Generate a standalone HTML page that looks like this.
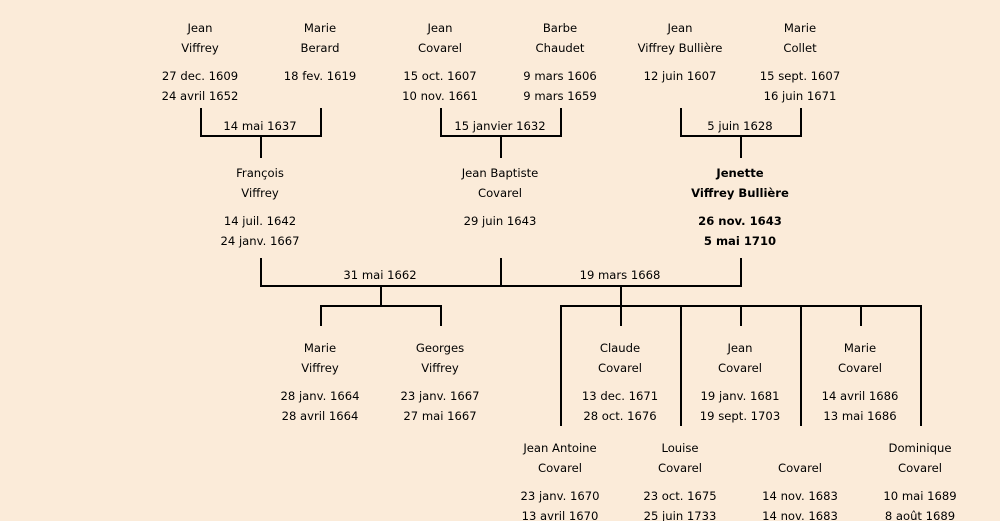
<!DOCTYPE html>
<html><head><meta charset="utf-8"><style>
html,body{margin:0;padding:0;background:#fbebd9;}
svg{display:block;}
text{font-family:"DejaVu Sans",sans-serif;font-size:11.6px;fill:#000;text-anchor:middle;}
.b{font-weight:bold;}
line{stroke:#000;stroke-width:2;}
</style></head><body>
<svg width="1000" height="521" viewBox="0 0 1000 521">
<rect width="1000" height="521" fill="#fbebd9"/>
<text x="200" y="32">Jean</text><text x="200" y="52">Viffrey</text><text x="200" y="80">27 dec. 1609</text><text x="200" y="100">24 avril 1652</text>
<text x="320" y="32">Marie</text><text x="320" y="52">Berard</text><text x="320" y="80">18 fev. 1619</text>
<text x="440" y="32">Jean</text><text x="440" y="52">Covarel</text><text x="440" y="80">15 oct. 1607</text><text x="440" y="100">10 nov. 1661</text>
<text x="560" y="32">Barbe</text><text x="560" y="52">Chaudet</text><text x="560" y="80">9 mars 1606</text><text x="560" y="100">9 mars 1659</text>
<text x="680" y="32">Jean</text><text x="680" y="52">Viffrey Bullière</text><text x="680" y="80">12 juin 1607</text>
<text x="800" y="32">Marie</text><text x="800" y="52">Collet</text><text x="800" y="80">15 sept. 1607</text><text x="800" y="100">16 juin 1671</text>
<line x1="201" y1="108" x2="201" y2="137"/><line x1="321" y1="108" x2="321" y2="137"/><line x1="200" y1="136" x2="322" y2="136"/><line x1="261" y1="136" x2="261" y2="158"/>
<text x="260" y="130">14 mai 1637</text>
<line x1="441" y1="108" x2="441" y2="137"/><line x1="561" y1="108" x2="561" y2="137"/><line x1="440" y1="136" x2="562" y2="136"/><line x1="501" y1="136" x2="501" y2="158"/>
<text x="500" y="130">15 janvier 1632</text>
<line x1="681" y1="108" x2="681" y2="137"/><line x1="801" y1="108" x2="801" y2="137"/><line x1="680" y1="136" x2="802" y2="136"/><line x1="741" y1="136" x2="741" y2="158"/>
<text x="740" y="130">5 juin 1628</text>
<text x="260" y="177">François</text><text x="260" y="197">Viffrey</text><text x="260" y="225">14 juil. 1642</text><text x="260" y="245">24 janv. 1667</text>
<text x="500" y="177">Jean Baptiste</text><text x="500" y="197">Covarel</text><text x="500" y="225">29 juin 1643</text>
<text class="b" x="740" y="177">Jenette</text><text class="b" x="740" y="197">Viffrey Bullière</text><text class="b" x="740" y="225">26 nov. 1643</text><text class="b" x="740" y="245">5 mai 1710</text>
<line x1="261" y1="258" x2="261" y2="287"/><line x1="501" y1="258" x2="501" y2="287"/><line x1="741" y1="258" x2="741" y2="287"/><line x1="260" y1="286" x2="742" y2="286"/>
<text x="380" y="279">31 mai 1662</text><text x="620" y="279">19 mars 1668</text>
<line x1="381" y1="286" x2="381" y2="306"/><line x1="320" y1="306" x2="442" y2="306"/><line x1="321" y1="306" x2="321" y2="326"/><line x1="441" y1="306" x2="441" y2="326"/>
<line x1="621" y1="286" x2="621" y2="306"/><line x1="560" y1="306" x2="922" y2="306"/>
<line x1="621" y1="306" x2="621" y2="326"/><line x1="741" y1="306" x2="741" y2="326"/><line x1="861" y1="306" x2="861" y2="326"/>
<line x1="561" y1="306" x2="561" y2="426"/><line x1="681" y1="306" x2="681" y2="426"/><line x1="801" y1="306" x2="801" y2="426"/><line x1="921" y1="306" x2="921" y2="426"/>
<text x="320" y="352">Marie</text><text x="320" y="372">Viffrey</text><text x="320" y="400">28 janv. 1664</text><text x="320" y="420">28 avril 1664</text>
<text x="440" y="352">Georges</text><text x="440" y="372">Viffrey</text><text x="440" y="400">23 janv. 1667</text><text x="440" y="420">27 mai 1667</text>
<text x="620" y="352">Claude</text><text x="620" y="372">Covarel</text><text x="620" y="400">13 dec. 1671</text><text x="620" y="420">28 oct. 1676</text>
<text x="740" y="352">Jean</text><text x="740" y="372">Covarel</text><text x="740" y="400">19 janv. 1681</text><text x="740" y="420">19 sept. 1703</text>
<text x="860" y="352">Marie</text><text x="860" y="372">Covarel</text><text x="860" y="400">14 avril 1686</text><text x="860" y="420">13 mai 1686</text>
<text x="560" y="452">Jean Antoine</text><text x="560" y="472">Covarel</text><text x="560" y="500">23 janv. 1670</text><text x="560" y="520">13 avril 1670</text>
<text x="680" y="452">Louise</text><text x="680" y="472">Covarel</text><text x="680" y="500">23 oct. 1675</text><text x="680" y="520">25 juin 1733</text>
<text x="800" y="472">Covarel</text><text x="800" y="500">14 nov. 1683</text><text x="800" y="520">14 nov. 1683</text>
<text x="920" y="452">Dominique</text><text x="920" y="472">Covarel</text><text x="920" y="500">10 mai 1689</text><text x="920" y="520">8 août 1689</text>
</svg>
</body></html>
